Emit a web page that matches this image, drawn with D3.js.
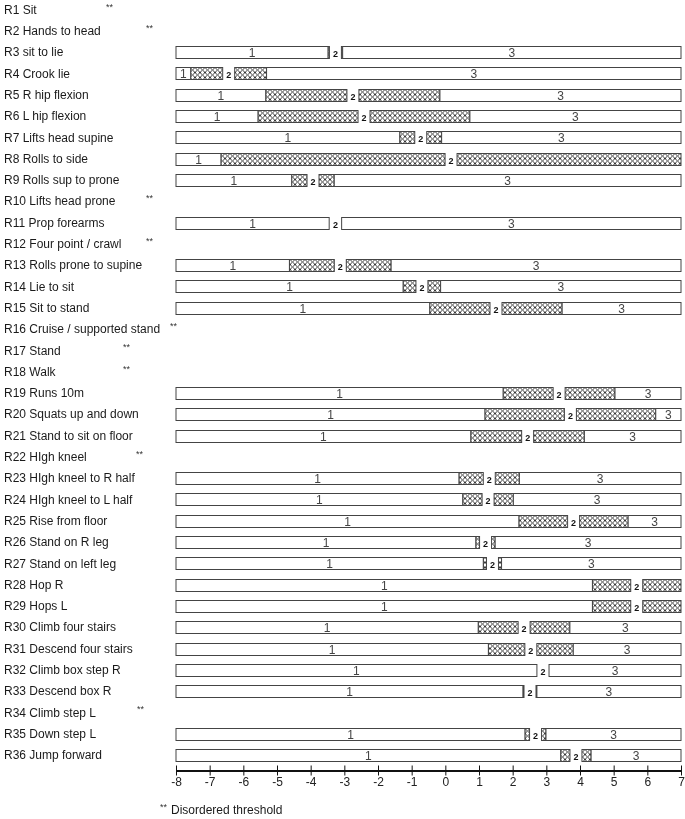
<!DOCTYPE html>
<html>
<head>
<meta charset="utf-8">
<title>Threshold map</title>
<style>
  body { margin: 0; background: #fff; }
  svg { font-family: "Liberation Sans", Arial, sans-serif; will-change: transform; }
  .item { font-size: 12px; fill: #1a1a1a; }
  .cat { font-size: 12px; fill: #444; }
  .cat2 { font-size: 9px; font-weight: bold; fill: #111; }
  .star { font-size: 9px; fill: #333; }
  .axis text { font-size: 12px; fill: #222; }
</style>
<script src="https://cdn.jsdelivr.net/npm/d3@7"></script>
</head>
<body>
<script>
// item names, top to bottom
var items = ["R1 Sit", "R2 Hands to head", "R3 sit to lie", "R4 Crook lie", "R5 R hip flexion",
  "R6 L hip flexion", "R7 Lifts head supine", "R8 Rolls to side", "R9 Rolls sup to prone",
  "R10 Lifts head prone", "R11 Prop forearms", "R12 Four point / crawl", "R13 Rolls prone to supine",
  "R14 Lie to sit", "R15 Sit to stand", "R16 Cruise / supported stand", "R17 Stand", "R18 Walk",
  "R19 Runs 10m", "R20 Squats up and down", "R21 Stand to sit on floor", "R22 HIgh kneel",
  "R23 HIgh kneel to R half", "R24 HIgh kneel to L half", "R25 Rise from floor", "R26 Stand on R leg",
  "R27 Stand on left leg", "R28 Hop R", "R29 Hops L", "R30 Climb four stairs",
  "R31 Descend four stairs", "R32 Climb box step R", "R33 Descend box R", "R34 Climb step L",
  "R35 Down step L", "R36 Jump forward"];

// threshold 1|2 and 2|3 (logits); null = disordered
var threshold1 = [null, null, -3.48, -7.56, -5.33, -5.56, -1.35, -6.66, -4.56, null, -3.45, null, -4.63,
  -1.25, -0.46, null, null, null, 1.72, 1.18, 0.76, null, 0.41, 0.52, 2.19, 0.91, 1.13, 4.37, 4.37,
  0.98, 1.28, 2.72, 2.31, null, 2.37, 3.43];
var threshold2 = [null, null, -3.05, -5.31, -0.16, 0.73, -0.11, 7.0, -3.30, null, -3.08, null, -1.61,
  -0.14, 3.47, null, null, null, 5.04, 6.25, 4.13, null, 2.20, 2.02, 5.43, 1.48, 1.67, 7.0, 7.0,
  3.70, 3.80, 3.08, 2.72, null, 2.99, 4.33];

var tickValues = d3.range(-8, 8);
var footnote = "Disordered threshold";

// where the ** marks sit after the disordered item names (px)
var starX = {"R1 Sit": 106, "R2 Hands to head": 146, "R10 Lifts head prone": 146,
  "R12 Four point / crawl": 146, "R16 Cruise / supported stand": 170, "R17 Stand": 123,
  "R18 Walk": 123, "R22 HIgh kneel": 136, "R34 Climb step L": 137};

var width = 685, height = 819;
var barH = 12, gap = 12, hp = 5;

var svg = d3.select("body").append("svg")
  .attr("width", width)
  .attr("height", height);

var defs = svg.append("defs");
var pat = defs.append("pattern")
  .attr("id", "xhatch")
  .attr("patternUnits", "userSpaceOnUse")
  .attr("width", hp).attr("height", hp);
pat.append("rect").attr("width", hp).attr("height", hp).attr("fill", "#fff");
pat.append("path")
  .attr("d", "M0,0L" + hp + "," + hp + "M" + hp + ",0L0," + hp)
  .attr("stroke", "#222").attr("stroke-width", 0.9);

var x = d3.scaleLinear().domain([-8, 7]).range([176, 681]);
var y = d3.scalePoint().domain(items).range([9.5, 755]);

var rows = items.map(function(name, i) {
  return {name: name, t1: threshold1[i], t2: threshold2[i]};
});

// item names
svg.append("g").selectAll("text")
  .data(rows)
  .enter().append("text")
  .attr("class", "item")
  .attr("x", 4)
  .attr("y", function(d) { return y(d.name); })
  .attr("dy", "0.35em")
  .text(function(d) { return d.name; });

// ** for disordered
svg.append("g").selectAll("text")
  .data(rows.filter(function(d) { return d.t1 == null; }))
  .enter().append("text")
  .attr("class", "star")
  .attr("x", function(d) { return starX[d.name]; })
  .attr("y", function(d) { return y(d.name); })
  .text("**");

// bars
var bar = svg.append("g").selectAll("g")
  .data(rows.filter(function(d) { return d.t1 != null; }))
  .enter().append("g")
  .attr("transform", function(d) { return "translate(0," + (Math.round(y(d.name) - barH / 2) + 0.5) + ")"; });

bar.each(function(d) {
  var g = d3.select(this);
  var x1 = x(d.t1), x2 = x(d.t2), mid = (x1 + x2) / 2;
  var segs = [
    {a: x(-8), b: x1, fill: "#fff", label: "1"},
    {a: x1, b: mid - gap / 2, fill: "url(#xhatch)"},
    {a: mid + gap / 2, b: x2, fill: "url(#xhatch)"},
    {a: x2, b: x(7), fill: "#fff", label: "3"}
  ].filter(function(s) { return s.b - s.a > 0.3; });

  g.selectAll("rect")
    .data(segs)
    .enter().append("rect")
    .attr("x", function(s) { return s.a; })
    .attr("width", function(s) { return s.b - s.a; })
    .attr("height", barH)
    .attr("fill", function(s) { return s.fill; })
    .attr("stroke", "#444")
    .attr("stroke-width", 1);

  g.selectAll("text.cat")
    .data(segs.filter(function(s) { return s.label && s.b - s.a > 8; }))
    .enter().append("text")
    .attr("class", "cat")
    .attr("x", function(s) { return (s.a + s.b) / 2; })
    .attr("y", barH / 2)
    .attr("dy", "0.36em")
    .attr("text-anchor", "middle")
    .text(function(s) { return s.label; });

  g.append("text")
    .attr("class", "cat2")
    .attr("x", mid)
    .attr("y", barH / 2 + 1)
    .attr("dy", "0.35em")
    .attr("text-anchor", "middle")
    .text("2");
});

// axis
var axis = svg.append("g")
  .attr("class", "axis")
  .attr("transform", "translate(0,770.5)")
  .call(d3.axisBottom(x).tickValues(tickValues).tickSize(5).tickSizeOuter(0).tickPadding(2)
    .tickFormat(d3.format("d")));
axis.select(".domain").attr("stroke", "#111").attr("stroke-width", 2);
axis.selectAll(".tick line").attr("y1", -5).attr("stroke", "#111");
axis.selectAll(".tick text").text(function(d) { return d < 0 ? "-" + Math.abs(d) : d; });

// footnote
svg.append("text").attr("class", "star").attr("x", 160).attr("y", 810).text("**");
svg.append("text").attr("class", "item").attr("x", 171).attr("y", 810).attr("dy", "0.35em").text(footnote);
</script>
</body>
</html>
